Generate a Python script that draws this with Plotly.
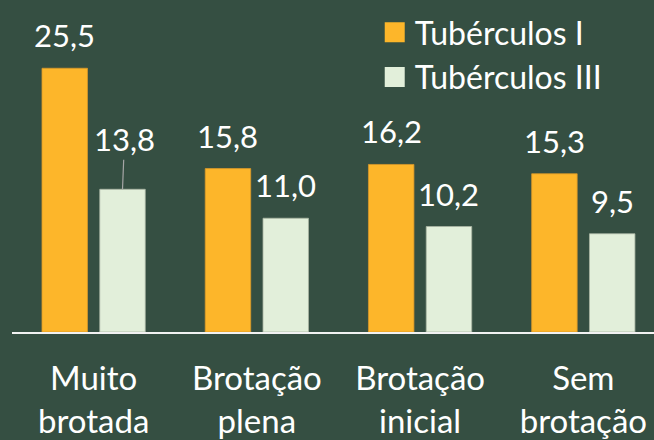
import plotly.graph_objects as go

categories = ["Muito<br>brotada", "Brotação<br>plena", "Brotação<br>inicial", "Sem<br>brotação"]
series_names = ["Tubérculos I", "Tubérculos III"]
tub_I = [25.5, 15.8, 16.2, 15.3]
tub_III = [13.8, 11.0, 10.2, 9.5]

BG = "#354F42"
ORANGE = "#FDB62A"
LIGHT = "#E2EFDA"
FONT = "Lato"
FS = 31

bargap = 0.292
bargroupgap = 0.213
xs = list(range(len(categories)))
off = (1 - bargap) / 4

fig = go.Figure()
fig.add_trace(go.Bar(x=xs, y=tub_I, name=series_names[0], marker=dict(color=ORANGE, line=dict(color="#D9982A", width=0.8)), showlegend=False))
fig.add_trace(go.Bar(x=xs, y=tub_III, name=series_names[1], marker=dict(color=LIGHT, line=dict(color="#A9B5A3", width=0.8)), showlegend=False))
# legend entries
for nm, col in zip(series_names, [ORANGE, LIGHT]):
    fig.add_trace(go.Scatter(x=[None], y=[None], mode="markers", name=nm,
                             marker=dict(symbol="square", size=16, color=col,
                                         line=dict(color=col, width=4))))

def fmt(v):
    return f"{v:.1f}".replace(".", ",")

anns = []
for i, v in enumerate(tub_I):
    anns.append(dict(x=i - off, y=v, text=fmt(v), showarrow=False, yanchor="bottom",
                     yshift=12, font=dict(family=FONT, size=FS, color="white")))
for i, v in enumerate(tub_III):
    if i == 0:
        anns.append(dict(x=i + off, y=v, text=fmt(v), showarrow=True, arrowhead=0,
                         arrowwidth=1.2, arrowcolor="#A6A6A6", ax=2, ay=-50, standoff=0,
                         font=dict(family=FONT, size=FS, color="white")))
    else:
        anns.append(dict(x=i + off, y=v, text=fmt(v), showarrow=False, yanchor="bottom",
                         yshift=12, font=dict(family=FONT, size=FS, color="white")))

fig.update_layout(
    width=654, height=440,
    margin=dict(l=12, r=0, t=0, b=108),
    paper_bgcolor=BG, plot_bgcolor=BG,
    barmode="group", bargap=bargap, bargroupgap=bargroupgap,
    font=dict(family=FONT, size=FS, color="white"),
    annotations=anns,
    legend=dict(x=0.565, y=0.985, xanchor="left", yanchor="top",
                font=dict(family=FONT, size=32, color="white"),
                bgcolor="rgba(0,0,0,0)"),
    xaxis=dict(range=[-0.5, 3.433], tickvals=xs, ticktext=categories,
               showline=True, linecolor="#F2F2F2", linewidth=2, showgrid=False,
               zeroline=False, ticks="outside", ticklen=16, tickcolor=BG,
               tickfont=dict(family=FONT, size=33, color="white")),
    yaxis=dict(range=[0, 32.1], visible=False, showgrid=False, zeroline=False),
)

fig.write_html("out.html", config={"displayModeBar": False},
               post_script="document.body.style.margin='0';document.body.style.overflow='hidden';")
